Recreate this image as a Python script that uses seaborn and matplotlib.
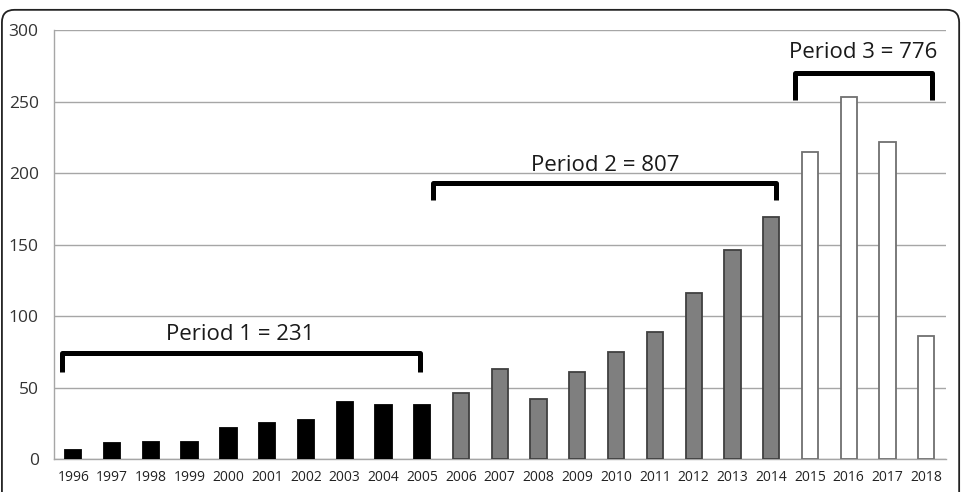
import numpy as np
import pandas as pd
import matplotlib
matplotlib.use("Agg")
import matplotlib.pyplot as plt
from matplotlib.patches import FancyBboxPatch
import seaborn as sns

years = [str(y) for y in range(1996, 2019)]
counts = [6, 11, 12, 12, 22, 25, 27, 40, 38, 38,
          46, 63, 42, 61, 75, 89, 116, 146, 169,
          215, 253, 222, 86]
periods = ["Period 1"] * 10 + ["Period 2"] * 9 + ["Period 3"] * 4
period_labels = ["Period 1 = 231", "Period 2 = 807", "Period 3 = 776"]

df = pd.DataFrame({"Year": years, "Count": counts, "Period": periods})

sns.set_style("white")
plt.rcParams["font.family"] = ["Open Sans", "DejaVu Sans"]

fig = plt.figure(figsize=(9.63, 4.92), dpi=100)
ax = fig.add_axes([0.056, 0.067, 0.926, 0.872])

fills = {"Period 1": "black", "Period 2": "#7f7f7f", "Period 3": "white"}
edges = {"Period 1": "black", "Period 2": "#404040", "Period 3": "#707070"}
sns.barplot(data=df, x="Year", y="Count", hue="Period", palette=fills,
            dodge=False, width=0.42, legend=False, ax=ax, zorder=3)
# match edge colours to each bar's period by x position
for bar in ax.patches:
    i = int(round(bar.get_x() + bar.get_width() / 2))
    if 0 <= i < len(periods):
        bar.set_edgecolor(edges[periods[i]])
        bar.set_linewidth(1.3)

ax.set_xlim(-0.5, len(years) - 0.5)
ax.set_ylim(0, 300)
ax.set_yticks(range(0, 301, 50))
ax.yaxis.grid(True, color="#a6a6a6", linewidth=1.0)
ax.set_axisbelow(True)
ax.set_xlabel("")
ax.set_ylabel("")
for s in ["top", "right"]:
    ax.spines[s].set_visible(False)
for s in ["left", "bottom"]:
    ax.spines[s].set_color("#a6a6a6")
    ax.spines[s].set_linewidth(1.0)

ax.tick_params(axis="y", length=3, color="#a6a6a6", labelsize=12.5, labelcolor="#333333", pad=8)
ax.tick_params(axis="x", length=0, labelsize=10, labelcolor="#222222", pad=8)
# minor ticks at category boundaries
ax.set_xticks(np.arange(-0.5, len(years), 1.0), minor=True)
ax.tick_params(axis="x", which="minor", length=4, color="#a6a6a6", direction="out")

# brackets
brackets = [(-0.3, 8.93, 74, 61, 87), (9.29, 18.13, 193, 181, 205), (18.62, 22.15, 270, 251, 284)]
for (x0, x1, ytop, yend, ytxt), lab in zip(brackets, period_labels):
    ax.plot([x0, x0, x1, x1], [yend, ytop, ytop, yend], color="black", linewidth=3.6,
            solid_joinstyle="round", solid_capstyle="butt", zorder=5, clip_on=False)
    ax.text((x0 + x1) / 2, ytxt, lab, ha="center", va="center", fontsize=16,
            color="#1a1a1a", zorder=6)

frame = FancyBboxPatch((0.002, -0.1), 0.994, 1.08, boxstyle="round,pad=0,rounding_size=0.013",
                       transform=fig.transFigure, facecolor="none", edgecolor="#222222",
                       linewidth=1.3, clip_on=False, mutation_aspect=963 / 492)
fig.patches.append(frame)

fig.savefig("out.png", dpi=100)
